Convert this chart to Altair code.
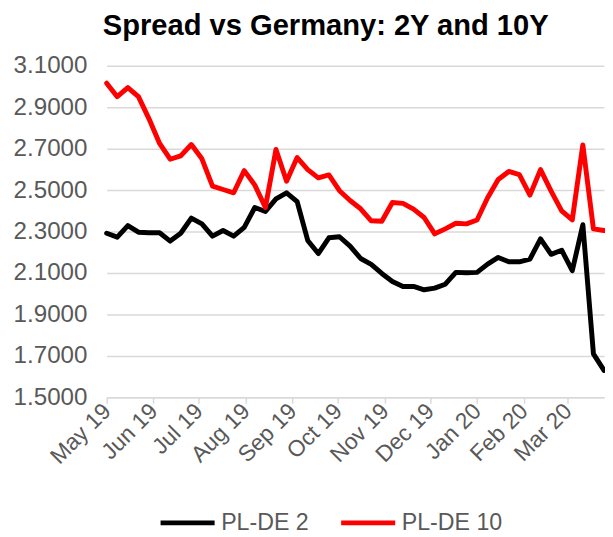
import altair as alt
import pandas as pd

# Weekly observations (Fridays), 3 May 2019 .. 27 Mar 2020
start_date = "2019-05-03"
n_points = 48

pl_de_2 = [2.292, 2.273, 2.329, 2.297, 2.294, 2.294, 2.254, 2.292, 2.365, 2.337,
           2.278, 2.305, 2.278, 2.320, 2.416, 2.397, 2.458, 2.487, 2.444, 2.257,
           2.194, 2.270, 2.275, 2.230, 2.170, 2.142, 2.098, 2.059, 2.035, 2.035,
           2.019, 2.027, 2.046, 2.103, 2.101, 2.103, 2.143, 2.175, 2.154, 2.154,
           2.167, 2.265, 2.190, 2.210, 2.111, 2.333, 1.710, 1.630]

pl_de_10 = [3.016, 2.951, 2.995, 2.951, 2.844, 2.725, 2.649, 2.665, 2.720, 2.651,
            2.519, 2.503, 2.487, 2.594, 2.524, 2.416, 2.696, 2.543, 2.657, 2.599,
            2.559, 2.573, 2.497, 2.450, 2.410, 2.352, 2.350, 2.440, 2.436, 2.408,
            2.368, 2.289, 2.313, 2.340, 2.337, 2.356, 2.463, 2.551, 2.590, 2.575,
            2.476, 2.599, 2.495, 2.400, 2.356, 2.718, 2.313, 2.305]

series_names = ["PL-DE 2", "PL-DE 10"]
series_colors = ["#000000", "#FF0000"]

tick_dates = ["2019-05-03", "2019-06-03", "2019-07-03", "2019-08-03", "2019-09-03",
              "2019-10-03", "2019-11-03", "2019-12-03", "2020-01-03", "2020-02-03",
              "2020-03-03"]
y_ticks = [1.5, 1.7, 1.9, 2.1, 2.3, 2.5, 2.7, 2.9, 3.1]

dates = pd.date_range(start_date, periods=n_points, freq="7D")
df = pd.concat([
    pd.DataFrame({"date": dates.strftime("%Y-%m-%d"), "value": pl_de_2, "series": series_names[0], "ord": 0}),
    pd.DataFrame({"date": dates.strftime("%Y-%m-%d"), "value": pl_de_10, "series": series_names[1], "ord": 1}),
], ignore_index=True)


def ms(d):
    return int(pd.Timestamp(d, tz="UTC").value // 10**6)


font = "Liberation Sans"
grey = "#595959"

chart = alt.Chart(df).mark_line(strokeWidth=5, strokeJoin="round", strokeCap="round").encode(
    x=alt.X("date:T",
            scale=alt.Scale(type="utc", domain=[ms(dates[0]), ms(dates[-1])], nice=False),
            axis=alt.Axis(values=[ms(d) for d in tick_dates],
                          labelExpr="utcFormat(datum.value, '%b %y')",
                          labelAngle=-45, labelAlign="right", labelBaseline="middle",
                          labelFont=font, labelFontSize=23, labelColor=grey,
                          labelPadding=4, labelOverlap=False, labelFlush=False, labelBound=False,
                          domainColor="#d9d9d9", domainWidth=1.5,
                          tickColor="#d9d9d9", tickWidth=1.5, tickSize=6,
                          grid=False, title=None)),
    y=alt.Y("value:Q",
            scale=alt.Scale(domain=[1.5, 3.1], nice=False, zero=False),
            axis=alt.Axis(values=y_ticks, format=".4f", labelFont=font, labelFontSize=24.5,
                          labelColor=grey, labelPadding=20, ticks=False, domain=False,
                          gridColor="#d9d9d9", gridWidth=1.5, title=None)),
    color=alt.Color("series:N",
                    scale=alt.Scale(domain=series_names, range=series_colors),
                    legend=alt.Legend(orient="none", direction="horizontal", legendX=52, legendY=433,
                                      title=None, symbolType="stroke", symbolSize=3000,
                                      symbolStrokeWidth=5, labelFont=font, labelFontSize=23.5,
                                      labelColor=grey, columnPadding=22, labelOffset=4)),
    order=alt.Order("ord:Q"),
).properties(
    width=504,
    height=336,
    title=alt.TitleParams("Spread vs Germany: 2Y and 10Y", font=font, fontSize=29.5,
                          fontWeight="bold", color="#000000", anchor="middle", dx=-30, offset=12),
    padding={"left": 100, "top": 55, "right": 1, "bottom": 140},
    autosize="none",
).configure_view(stroke=None)

chart.save("out.html", embed_options={"renderer": "svg", "actions": False})
